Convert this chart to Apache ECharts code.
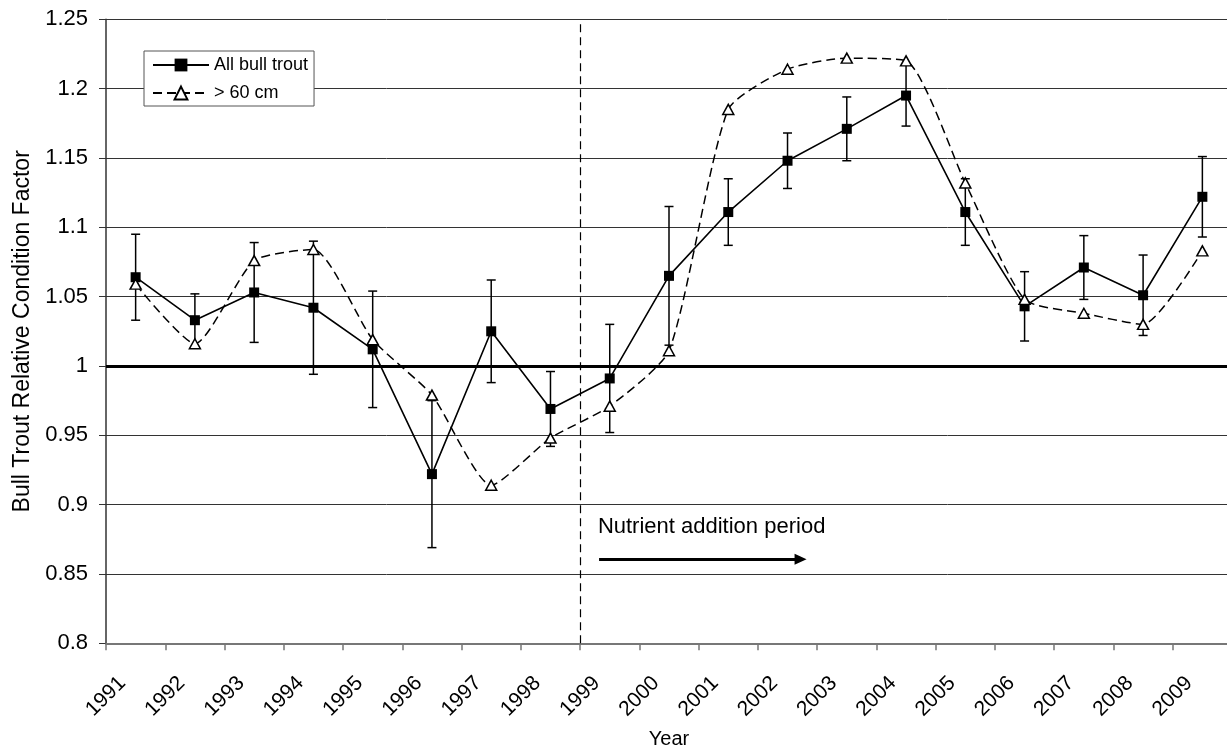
<!DOCTYPE html>
<html>
<head>
<meta charset="utf-8">
<script src="https://cdn.jsdelivr.net/npm/echarts@6/dist/echarts.min.js"></script>
<style>
html, body { margin: 0; padding: 0; background: #fff; }
#chart { width: 1227px; height: 751px; }
</style>
</head>
<body>
<div id="chart"></div>
<script>
// chart data
const years = [1991, 1992, 1993, 1994, 1995, 1996, 1997, 1998, 1999, 2000,
               2001, 2002, 2003, 2004, 2005, 2006, 2007, 2008, 2009];
const allTrout = [1.064, 1.033, 1.053, 1.042, 1.012, 0.922, 1.025, 0.969, 0.991, 1.065,
                  1.111, 1.148, 1.171, 1.195, 1.111, 1.043, 1.071, 1.051, 1.122];
const allTroutErr = [0.031, 0.019, 0.036, 0.048, 0.042, 0.053, 0.037, 0.027, 0.039, 0.050,
                     0.024, 0.020, 0.023, 0.022, 0.024, 0.025, 0.023, 0.029, 0.029];
const over60 = [1.059, 1.016, 1.076, 1.084, 1.019, 0.979, 0.914, 0.948, 0.971, 1.011,
                1.185, 1.214, 1.222, 1.220, 1.132, 1.048, 1.038, 1.030, 1.083];
const seriesNames = ['All bull trout', '> 60 cm'];
const nutrientStart = 1999;
const referenceLevel = 1;
const arrowFrom = [1999.32, 0.8606];
const arrowTo = [2002.72, 0.8606];
const noteAt = [1999.30, 0.8837];
const noteText = 'Nutrient addition period';

const FONT = '"Liberation Sans", Arial, sans-serif';

let myChart = echarts.init(document.getElementById('chart'));

myChart.setOption({
  animation: false,
  backgroundColor: '#fff',
  textStyle: { fontFamily: FONT, color: '#000' },
  grid: {
    left: 106,
    right: -5,
    top: 19.3,
    bottom: 107.7,
    containLabel: false,
    outerBoundsMode: 'none'
  },
  legend: {
    data: seriesNames,
    orient: 'vertical',
    left: 144,
    top: 51,
    padding: [5, 6, 4, 8],
    itemGap: 10,
    itemWidth: 56,
    itemHeight: 16,
    backgroundColor: '#fff',
    borderColor: '#555',
    borderWidth: 1,
    borderRadius: 0,
    textStyle: { fontSize: 18, color: '#000', fontFamily: FONT }
  },
  xAxis: {
    type: 'value',
    min: 1991,
    max: 2010,
    interval: 1,
    name: 'Year',
    nameLocation: 'middle',
    nameGap: 86,
    nameTextStyle: { fontSize: 20, color: '#000', fontFamily: FONT },
    axisLine: { show: true, lineStyle: { color: '#777', width: 2 } },
    axisTick: { show: true, inside: false, length: 7, lineStyle: { color: '#777', width: 1.5 } },
    axisLabel: {
      show: true,
      rotate: 45,
      align: 'center',
      verticalAlign: 'middle',
      margin: 53,
      fontSize: 21,
      color: '#000',
      fontFamily: FONT,
      // year labels, none for the closing tick
      formatter: function (v) { return v < years[years.length - 1] + 1 ? String(v) : ''; }
    },
    splitLine: { show: false }
  },
  yAxis: {
    type: 'value',
    min: 0.8,
    max: 1.25,
    interval: 0.05,
    name: 'Bull Trout Relative Condition Factor',
    nameLocation: 'middle',
    nameGap: 72,
    nameTextStyle: { fontSize: 23, color: '#000', fontFamily: FONT },
    axisLine: { show: true, lineStyle: { color: '#333', width: 1.5 } },
    axisTick: { show: true, inside: false, length: 7, lineStyle: { color: '#333', width: 1 } },
    axisLabel: {
      margin: 18,
      fontSize: 22,
      color: '#000',
      fontFamily: FONT,
      formatter: function (v) { return String(+v.toFixed(2)); }
    },
    splitLine: { show: true, lineStyle: { color: '#333', width: 1 } }
  },
  series: [
    {
      // error bars of "All bull trout"
      type: 'custom',
      silent: true,
      z: 2,
      encode: { x: 0, y: [1, 2] },
      data: years.map(function (y, i) {
        return [y + 0.5, allTrout[i] - allTroutErr[i], allTrout[i] + allTroutErr[i]];
      }),
      renderItem: function (params, api) {
        let x = api.value(0);
        let lo = api.coord([x, api.value(1)]);
        let hi = api.coord([x, api.value(2)]);
        let cap = 4.5;
        let style = { stroke: '#000', lineWidth: 1.5 };
        return {
          type: 'group',
          children: [
            { type: 'line', shape: { x1: lo[0], y1: lo[1], x2: hi[0], y2: hi[1] }, style: style },
            { type: 'line', shape: { x1: lo[0] - cap, y1: lo[1], x2: lo[0] + cap, y2: lo[1] }, style: style },
            { type: 'line', shape: { x1: hi[0] - cap, y1: hi[1], x2: hi[0] + cap, y2: hi[1] }, style: style }
          ]
        };
      }
    },
    {
      name: seriesNames[0],
      type: 'line',
      z: 3,
      data: years.map(function (y, i) { return [y + 0.5, allTrout[i]]; }),
      symbol: 'rect',
      symbolSize: 10,
      itemStyle: { color: '#000' },
      lineStyle: { color: '#000', width: 1.6, type: 'solid' },
      emphasis: { disabled: true },
      markLine: {
        silent: true,
        symbol: ['none', 'none'],
        label: { show: false },
        emphasis: { disabled: true },
        data: [
          { yAxis: referenceLevel, lineStyle: { color: '#000', width: 3, type: 'solid' } },
          { xAxis: nutrientStart, lineStyle: { color: '#000', width: 1.2, type: [8, 5] } },
          [
            { coord: arrowFrom, symbol: 'none', lineStyle: { color: '#000', width: 3, type: 'solid' } },
            { coord: arrowTo, symbol: 'triangle', symbolSize: [11, 12] }
          ]
        ]
      },
      markPoint: {
        silent: true,
        symbol: 'circle',
        symbolSize: 0,
        data: [{ coord: noteAt, value: noteText }],
        label: {
          show: true,
          position: 'right',
          distance: 0,
          formatter: noteText,
          fontSize: 22,
          color: '#000',
          fontFamily: FONT
        }
      }
    },
    {
      name: seriesNames[1],
      type: 'line',
      z: 4,
      smooth: 0.2,
      data: years.map(function (y, i) { return [y + 0.5, over60[i]]; }),
      symbol: 'triangle',
      symbolSize: [11, 10],
      itemStyle: { color: '#fff', borderColor: '#000', borderWidth: 1.5 },
      lineStyle: { color: '#000', width: 1.5, type: [9, 5] },
      emphasis: { disabled: true }
    }
  ]
});
</script>
</body>
</html>
